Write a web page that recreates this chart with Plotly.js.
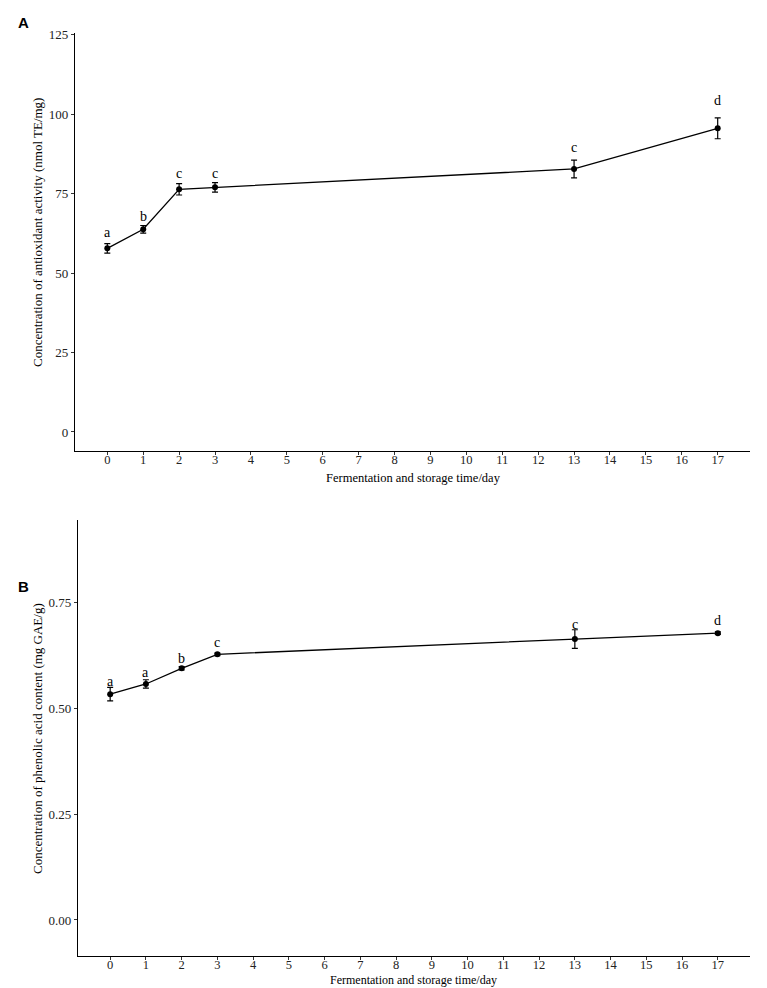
<!DOCTYPE html>
<html>
<head>
<meta charset="utf-8">
<script src="https://cdn.plot.ly/plotly-3.0.1.min.js"></script>
<style>
  html, body { margin: 0; padding: 0; background: #ffffff; }
  #chart { width: 767px; height: 988px; }
</style>
</head>
<body>
<div id="chart"></div>
<script>
// ---- data ----
const days = [0, 1, 2, 3, 13, 17];
const xTicks = [0,1,2,3,4,5,6,7,8,9,10,11,12,13,14,15,16,17];

const antioxMean = [57.8, 63.8, 76.4, 77.0, 82.8, 95.6];
const antioxErr = [1.5, 1.2, 1.8, 1.5, 2.8, 3.3];
const antioxLetters = ['a', 'b', 'c', 'c', 'c', 'd'];
const antioxLetterY = [62.7, 67.7, 81.5, 81.5, 89.5, 104.5];
const antioxTicks = [0, 25, 50, 75, 100, 125];

const phenolMean = [0.533, 0.557, 0.594, 0.627, 0.663, 0.677];
const phenolErr = [0.016, 0.010, 0.004, 0.003, 0.022, 0.003];
const phenolLetters = ['a', 'a', 'b', 'c', 'c', 'd'];
const phenolLetterY = [0.564, 0.585, 0.618, 0.656, 0.698, 0.706];
const phenolTicks = [0, 0.25, 0.5, 0.75];

const xTitle = 'Fermentation and storage time/day';
const yTitleA = 'Concentration of antioxidant activity (nmol TE/mg)';
const yTitleB = 'Concentration of phenolic acid content (mg GAE/g)';

// ---- styling ----
const serif = 'Liberation Serif, Times New Roman, serif';
const W = 767, H = 988;

function series(y, err, xa, ya) {
  return {
    type: 'scatter', mode: 'lines+markers',
    x: days, y: y, xaxis: xa, yaxis: ya,
    line: { color: '#000', width: 1.3 },
    marker: { color: '#000', size: 6 },
    error_y: { type: 'data', array: err, visible: true, color: '#000', thickness: 1.2, width: 3 },
    showlegend: false, hoverinfo: 'skip'
  };
}

const data = [
  series(antioxMean, antioxErr, 'x', 'y'),
  series(phenolMean, phenolErr, 'x2', 'y2')
];

const annotations = [];
const letterFont = { family: serif, size: 14, color: '#000' };
days.forEach((d, i) => {
  annotations.push({ x: d, y: antioxLetterY[i], xref: 'x', yref: 'y', text: antioxLetters[i],
    showarrow: false, font: letterFont, yanchor: 'middle' });
  annotations.push({ x: d, y: phenolLetterY[i], xref: 'x2', yref: 'y2', text: phenolLetters[i],
    showarrow: false, font: letterFont, yanchor: 'middle' });
});
const panelFont = { family: 'Liberation Sans, Arial, sans-serif', size: 15, color: '#000' };
annotations.push({ x: 16 / W, y: 1 - 22 / H, xref: 'paper', yref: 'paper', text: '<b>A</b>',
  showarrow: false, xanchor: 'left', yanchor: 'middle', font: panelFont });
annotations.push({ x: 16 / W, y: 1 - 586 / H, xref: 'paper', yref: 'paper', text: '<b>B</b>',
  showarrow: false, xanchor: 'left', yanchor: 'middle', font: panelFont });

// axis titles as paper annotations for exact placement
const titleFont = { family: serif, size: 12.5, color: '#000' };
annotations.push({ x: 413 / W, y: 1 - 478 / H, xref: 'paper', yref: 'paper', text: xTitle,
  showarrow: false, xanchor: 'center', yanchor: 'middle', font: titleFont });
annotations.push({ x: 414 / W, y: 1 - 980 / H, xref: 'paper', yref: 'paper', text: xTitle,
  showarrow: false, xanchor: 'center', yanchor: 'middle', font: { family: serif, size: 12, color: '#000' } });
annotations.push({ x: 37 / W, y: 1 - 233 / H, xref: 'paper', yref: 'paper', text: yTitleA,
  showarrow: false, textangle: -90, xanchor: 'center', yanchor: 'middle',
  font: { family: serif, size: 13, color: '#000' } });
annotations.push({ x: 37 / W, y: 1 - 739 / H, xref: 'paper', yref: 'paper', text: yTitleB,
  showarrow: false, textangle: -90, xanchor: 'center', yanchor: 'middle',
  font: { family: serif, size: 13, color: '#000' } });

const axisCommon = {
  showline: true, linecolor: '#000', linewidth: 1.1, mirror: false,
  showgrid: false, zeroline: false,
  ticks: 'outside', ticklen: 3, tickwidth: 1, tickcolor: '#333',
  tickfont: { family: serif, size: 13, color: '#222' },
  automargin: false, fixedrange: true
};

const xAxisCommon = Object.assign({}, axisCommon, {
  range: [-0.9, 17.9], tickmode: 'array', tickvals: xTicks, ticktext: xTicks.map(String),
  ticklabelstandoff: -6, tickfont: { family: serif, size: 12.5, color: '#222' }
});

const layout = {
  width: W, height: H,
  margin: { l: 0, r: 0, t: 0, b: 0 },
  paper_bgcolor: '#fff', plot_bgcolor: '#fff',
  xaxis: Object.assign({}, xAxisCommon, { domain: [75 / W, 750 / W], anchor: 'y' }),
  yaxis: Object.assign({}, axisCommon, {
    domain: [1 - 451 / H, 1 - 33 / H], anchor: 'x',
    range: [-6, 125.6], tickmode: 'array', tickvals: antioxTicks, ticktext: antioxTicks.map(String)
  }),
  xaxis2: Object.assign({}, xAxisCommon, { domain: [78 / W, 750 / W], anchor: 'y2' }),
  yaxis2: Object.assign({}, axisCommon, {
    domain: [1 - 956 / H, 1 - 520 / H], anchor: 'x2',
    range: [-0.085, 0.944], tickmode: 'array', tickvals: phenolTicks,
    ticktext: phenolTicks.map(v => v.toFixed(2))
  }),
  annotations: annotations
};

Plotly.newPlot('chart', data, layout, { displayModeBar: false, staticPlot: true });
</script>
</body>
</html>
